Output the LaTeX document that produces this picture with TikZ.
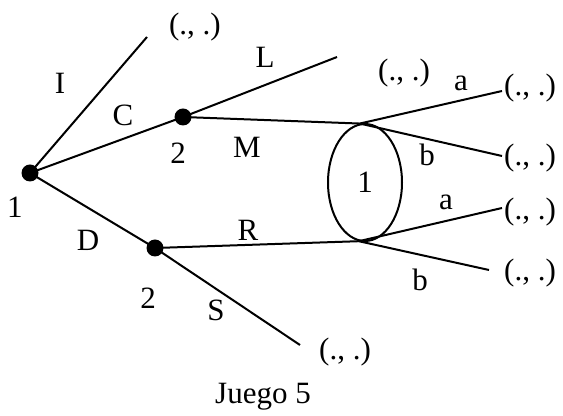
\documentclass[tikz,border=0pt]{standalone}
\usepackage{fontspec}
\setmainfont{Liberation Serif}
\usetikzlibrary{shapes.geometric}
\tikzset{dec/.style={circle,fill=black,inner sep=0pt,minimum size=8.5pt},
  lbl/.style={inner sep=0pt}}

\begin{document}
\begin{tikzpicture}[x=0.5pt,y=-0.5pt,line width=1pt,font=\fontsize{15.5}{18}\selectfont]
\useasboundingbox (0,0) rectangle (563,416);
\node[dec] (r) at (30,173) {};
\node[dec] (c) at (183,117) {};
\node[dec] (d) at (155,248) {};
\node[draw,ellipse,minimum width=37pt,minimum height=58.5pt,inner sep=0pt] (info) at (365,182.5) {1};
\coordinate (tI) at (147,37);
\coordinate (tL) at (337,57);
\coordinate (tS) at (300,345);
\coordinate (ta1) at (502,91);
\coordinate (tb1) at (502,156);
\coordinate (ta2) at (502,208);
\coordinate (tb2) at (489,270);
% branches
\draw (r.center)--(tI) node[lbl] at (60,83) {I};
\draw (r.center)--(c.center) node[lbl] at (123,115) {C};
\draw (r.center)--(d.center) node[lbl] at (88,240) {D};
\draw (c.center)--(tL) node[lbl] at (265,57) {L};
\draw (c.center)--(info.95) node[lbl] at (247,147) {M};
\draw (d.center)--(info.264) node[lbl] at (248,230) {R};
\draw (d.center)--(tS) node[lbl] at (216,310) {S};
\draw (info.95)--(ta1) node[lbl] at (461,83) {a};
\draw (info.95)--(tb1) node[lbl] at (427,155) {b};
\draw (info.264)--(ta2) node[lbl] at (446,202) {a};
\draw (info.264)--(tb2) node[lbl] at (420,280) {b};
% players
\node[lbl] (p1) at (15,207) {1};
\node[lbl] (p2c) at (178,153) {2};
\node[lbl] (p2d) at (148,298) {2};
% payoffs
\node[lbl] (oI) at (195,27) {(., .)};
\node[lbl] (oL) at (404,73) {(., .)};
\node[lbl] (oa1) at (530,88) {(., .)};
\node[lbl] (ob1) at (530,158) {(., .)};
\node[lbl] (oa2) at (530,212) {(., .)};
\node[lbl] (ob2) at (530,273) {(., .)};
\node[lbl] (oS) at (345,352) {(., .)};
\node[lbl] (title) at (263,397) {Juego 5};
\end{tikzpicture}
\end{document}
